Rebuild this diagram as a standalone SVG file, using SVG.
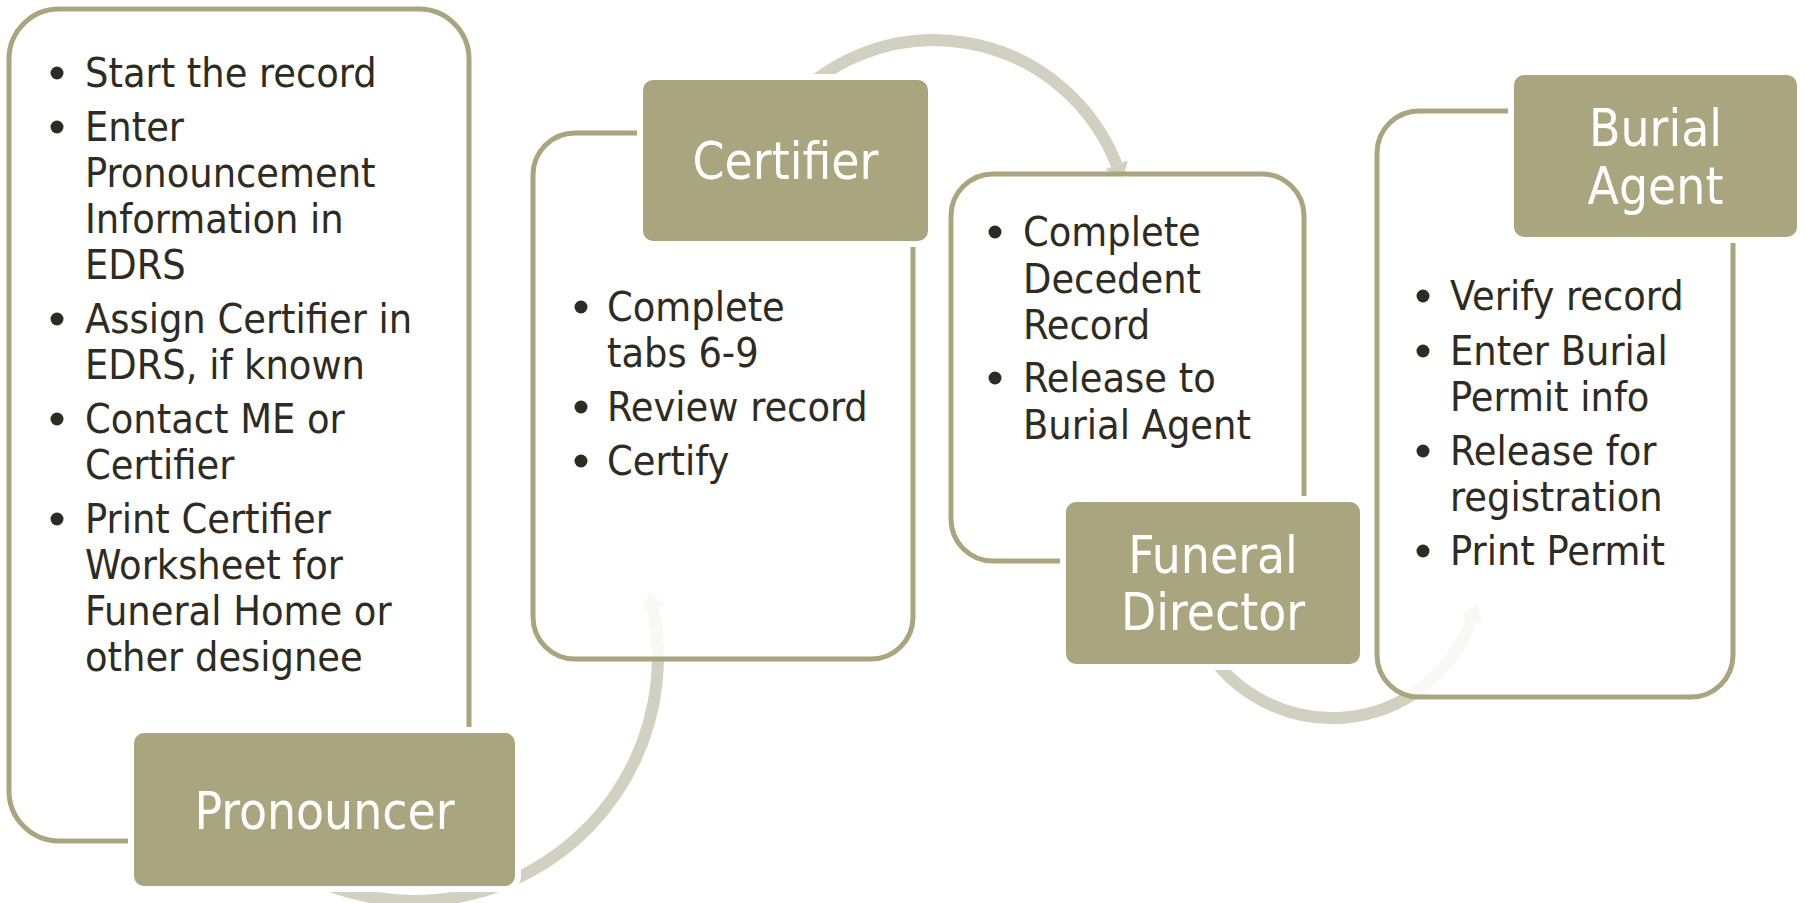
<svg xmlns="http://www.w3.org/2000/svg" width="1805" height="903" viewBox="0 0 1805 903">
  <style>
    .panel { fill: #ffffff; fill-opacity: 0.85; stroke: #a9a57e; stroke-width: 5; }
    .title { fill: #a9a57e; stroke: #ffffff; stroke-width: 12; paint-order: stroke; }
    .title-text { font-family: 'DejaVu Sans Condensed', 'DejaVu Sans', sans-serif; font-size: 51px; fill: #ffffff; text-anchor: middle; }
    .item { font-family: 'DejaVu Sans Condensed', 'DejaVu Sans', sans-serif; font-size: 41px; fill: #2e2b22; }
    .dot { fill: #2e2b22; }
    .flow { fill: none; stroke: #d1d0c1; stroke-width: 12; marker-end: url(#head); }
  </style>
  <defs>
    <marker id="head" markerUnits="userSpaceOnUse" markerWidth="20" markerHeight="28" refX="0" refY="12" orient="auto" overflow="visible">
      <path d="M0,0 L17,12 L0,24 Z" fill="#d1d0c1"/>
    </marker>
  </defs>

  <rect width="1805" height="903" fill="#ffffff"/>

  <!-- curved flow arrows, drawn beneath the panels -->
  <g id="connectors">
    <path class="flow" d="M241.5,829.5 A244,244 0 0 0 653,608"/>
    <path class="flow" d="M784,110 A196,196 0 0 1 1116.6,164.8"/>
    <path class="flow" d="M1203.8,644 A148,148 0 0 0 1471.3,620"/>
  </g>

  <!-- Pronouncer -->
  <g id="pronouncer">
    <rect class="panel" x="9" y="9" width="460" height="832" rx="50"/>
    <circle class="dot" cx="57" cy="73" r="6.5"/>
    <circle class="dot" cx="57" cy="127" r="6.5"/>
    <circle class="dot" cx="57" cy="319" r="6.5"/>
    <circle class="dot" cx="57" cy="419" r="6.5"/>
    <circle class="dot" cx="57" cy="519" r="6.5"/>
    <text class="item" x="85" y="87">Start the record</text>
    <text class="item" x="85" y="141">Enter</text>
    <text class="item" x="85" y="187">Pronouncement</text>
    <text class="item" x="85" y="233">Information in</text>
    <text class="item" x="85" y="279">EDRS</text>
    <text class="item" x="85" y="333">Assign Certifier in</text>
    <text class="item" x="85" y="379">EDRS, if known</text>
    <text class="item" x="85" y="433">Contact ME or</text>
    <text class="item" x="85" y="479">Certifier</text>
    <text class="item" x="85" y="533">Print Certifier</text>
    <text class="item" x="85" y="579">Worksheet for</text>
    <text class="item" x="85" y="625">Funeral Home or</text>
    <text class="item" x="85" y="671">other designee</text>
    <rect class="title" x="134" y="733" width="381" height="153" rx="10"/>
    <text class="title-text" x="324.5" y="829">Pronouncer</text>
  </g>

  <!-- Certifier -->
  <g id="certifier">
    <rect class="panel" x="533" y="133" width="380" height="526" rx="42"/>
    <circle class="dot" cx="581" cy="307" r="6.5"/>
    <circle class="dot" cx="581" cy="407" r="6.5"/>
    <circle class="dot" cx="581" cy="461" r="6.5"/>
    <text class="item" x="607" y="321">Complete</text>
    <text class="item" x="607" y="367">tabs 6-9</text>
    <text class="item" x="607" y="421">Review record</text>
    <text class="item" x="607" y="475">Certify</text>
    <rect class="title" x="643" y="80" width="285" height="161" rx="10"/>
    <text class="title-text" x="785.5" y="179">Certifier</text>
  </g>

  <!-- Funeral Director -->
  <g id="funeral-director">
    <rect class="panel" x="951" y="174" width="353" height="387" rx="42"/>
    <circle class="dot" cx="995" cy="232" r="6.5"/>
    <circle class="dot" cx="995" cy="378" r="6.5"/>
    <text class="item" x="1023" y="246">Complete</text>
    <text class="item" x="1023" y="293">Decedent</text>
    <text class="item" x="1023" y="339">Record</text>
    <text class="item" x="1023" y="392">Release to</text>
    <text class="item" x="1023" y="439">Burial Agent</text>
    <rect class="title" x="1066" y="502" width="294" height="162" rx="10"/>
    <text class="title-text" x="1213" y="573">Funeral</text>
    <text class="title-text" x="1213" y="630">Director</text>
  </g>

  <!-- Burial Agent -->
  <g id="burial-agent">
    <rect class="panel" x="1377" y="111" width="356" height="586" rx="42"/>
    <circle class="dot" cx="1423" cy="296" r="6.5"/>
    <circle class="dot" cx="1423" cy="351" r="6.5"/>
    <circle class="dot" cx="1423" cy="451" r="6.5"/>
    <circle class="dot" cx="1423" cy="551" r="6.5"/>
    <text class="item" x="1450" y="310">Verify record</text>
    <text class="item" x="1450" y="365">Enter Burial</text>
    <text class="item" x="1450" y="411">Permit info</text>
    <text class="item" x="1450" y="465">Release for</text>
    <text class="item" x="1450" y="511">registration</text>
    <text class="item" x="1450" y="565">Print Permit</text>
    <rect class="title" x="1514" y="75" width="283" height="162" rx="10"/>
    <text class="title-text" x="1655.5" y="146">Burial</text>
    <text class="title-text" x="1655.5" y="204">Agent</text>
  </g>
</svg>
